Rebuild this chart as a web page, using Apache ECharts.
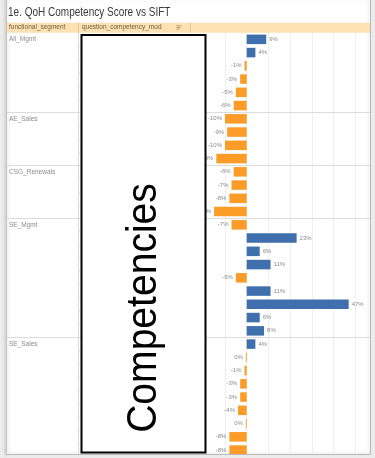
<!DOCTYPE html>
<html>
<head>
<meta charset="utf-8">
<script src="https://cdn.jsdelivr.net/npm/echarts@6/dist/echarts.min.js"></script>
<style>
  html, body { margin: 0; padding: 0; background: #ececec; }
  #chart { width: 375px; height: 458px; }
</style>
</head>
<body>
<div id="chart"></div>
<script>
// Segments in display order and the QoH competency score (%) of each question row vs SIFT
const segments = ['All_Mgmt', 'AE_Sales', 'CSG_Renewals', 'SE_Mgmt', 'SE_Sales'];
const allMgmtScores = [9, 4, -1, -3, -5, -6];
const aeSalesScores = [-10, -9, -10, -14];
const csgRenewalsScores = [-6, -7, -8, -15];
const seMgmtScores = [-7, 23, 6, 11, -5, 11, 47, 6, 8];
const seSalesScores = [4, -0.4, -1, -3, -3, -4, -0.4, -8, -8];

// Score axis: gridlines every 10 points
const xMin = -20;
const xMax = 57;
const xStep = 10;

const title = '1e. QoH Competency Score vs SIFT';
const headerSegment = 'functional_segment';
const headerQuestion = 'question_competency_mod';
const overlayText = 'Competencies';

const scoreGroups = [allMgmtScores, aeSalesScores, csgRenewalsScores, seMgmtScores, seSalesScores];

// One category per question row, grouped by segment
const categories = [];
const values = [];
const segmentStart = [];
scoreGroups.forEach((group, s) => {
  segmentStart.push(categories.length);
  group.forEach((v, i) => {
    categories.push(segments[s] + ' Q' + (i + 1));
    values.push(v);
  });
});

const POS = '#3f70ad';
const NEG = '#fb9c28';
const FONT = '"Liberation Sans", Arial, sans-serif';

const chart = echarts.init(document.getElementById('chart'), null, { renderer: 'canvas' });

const option = {
  animation: false,
  backgroundColor: '#ececec',
  grid: { left: 203.3, right: 4.6, top: 32.7, bottom: 1.3, containLabel: false },
  xAxis: {
    type: 'value',
    min: xMin, max: xMax, interval: xStep,
    axisLabel: { show: false },
    axisTick: { show: false },
    axisLine: { show: false },
    splitLine: { show: true, showMaxLine: false, lineStyle: { color: '#efefef', width: 1 } }
  },
  yAxis: {
    type: 'category',
    inverse: true,
    data: categories,
    axisLabel: { show: false },
    axisTick: { show: false },
    axisLine: { show: false },
    splitLine: { show: false }
  },
  series: [{
    type: 'bar',
    barWidth: '72%',
    z: 2,
    data: values.map(v => ({
      value: v,
      itemStyle: { color: v < 0 ? NEG : POS },
      label: { position: v < 0 ? 'left' : 'right' }
    })),
    label: {
      show: true,
      distance: 3,
      fontSize: 6,
      fontFamily: FONT,
      color: '#8a8a8a',
      formatter: p => Math.round(p.value) + '%'
    }
  }]
};

chart.setOption(option);

// Table chrome (header, segment bands, separators) placed from the category axis
const yAt = i => chart.convertToPixel({ yAxisIndex: 0 }, categories[i]);
const pitch = yAt(1) - yAt(0);
const rowTop = i => yAt(i) - pitch / 2;

const cardL = 6.5, cardR = 370.5, cardB = 454.5;
const colDiv = 78.5, paneL = 190.5;
const headTop = 22.7, headBot = rowTop(0);

const g = [];
// card
g.push({ type: 'rect', z: -5, shape: { x: cardL, y: -3, width: cardR - cardL, height: cardB + 3 },
  style: { fill: '#ffffff', stroke: '#c4c4c4', lineWidth: 1, shadowBlur: 4, shadowColor: 'rgba(0,0,0,0.25)' } });
// title
g.push({ type: 'text', z: 5, x: 8, y: 12, scaleX: 0.77,
  style: { text: title, font: '13px ' + FONT, fill: '#3a3a3a', textVerticalAlign: 'middle' } });
// header band
g.push({ type: 'rect', z: 1, shape: { x: cardL + 0.5, y: headTop, width: cardR - cardL - 1, height: headBot - headTop },
  style: { fill: '#fde1b2' } });
g.push({ type: 'line', z: 1, shape: { x1: colDiv, y1: headTop, x2: colDiv, y2: headBot }, style: { stroke: '#e8c896', lineWidth: 1 } });
g.push({ type: 'line', z: 1, shape: { x1: paneL, y1: headTop, x2: paneL, y2: headBot }, style: { stroke: '#e8c896', lineWidth: 1 } });
g.push({ type: 'text', z: 5, x: 9, y: (headTop + headBot) / 2,
  style: { text: headerSegment, font: '6.5px ' + FONT, fill: '#6e5a3e', textVerticalAlign: 'middle' } });
g.push({ type: 'text', z: 5, x: 82, y: (headTop + headBot) / 2,
  style: { text: headerQuestion, font: '6.5px ' + FONT, fill: '#6e5a3e', textVerticalAlign: 'middle' } });
// sort icon
[[5, 0], [4, 1.6], [3, 3.2]].forEach(([w, dy]) => {
  g.push({ type: 'line', z: 5, shape: { x1: 176.5, y1: 25.8 + dy, x2: 176.5 + w, y2: 25.8 + dy },
    style: { stroke: '#a88a62', lineWidth: 0.8 } });
});
// column divider between segment and question columns
g.push({ type: 'line', z: 1, shape: { x1: colDiv, y1: headBot, x2: colDiv, y2: cardB }, style: { stroke: '#dadada', lineWidth: 1 } });
// row lines in the question column
for (let i = 1; i < categories.length; i++) {
  const y = Math.round(rowTop(i)) + 0.5;
  g.push({ type: 'line', z: 1, shape: { x1: colDiv, y1: y, x2: paneL, y2: y }, style: { stroke: '#e2e2e2', lineWidth: 1 } });
}
// segment separators and labels
segments.forEach((name, s) => {
  const start = segmentStart[s];
  if (s > 0) {
    const y = Math.round(rowTop(start)) + 0.5;
    g.push({ type: 'line', z: 3, shape: { x1: cardL + 0.5, y1: y, x2: cardR - 0.5, y2: y }, style: { stroke: '#dcdcdc', lineWidth: 1 } });
  }
  g.push({ type: 'text', z: 5, x: 9, y: yAt(start),
    style: { text: name, font: '6.5px ' + FONT, fill: '#8c8c8c', textVerticalAlign: 'middle' } });
});
// overlay box across the question column
g.push({ type: 'rect', z: 20, shape: { x: 81.5, y: 35, width: 124, height: 417.5 },
  style: { fill: '#ffffff', stroke: '#000000', lineWidth: 2 } });
g.push({ type: 'text', z: 21, x: 144, y: 308, rotation: Math.PI / 2, scaleX: 0.93,
  style: { text: overlayText, font: '42px ' + FONT, fill: '#000000', textAlign: 'center', textVerticalAlign: 'middle' } });
// card edge over the clipped last row
g.push({ type: 'rect', z: 30, shape: { x: cardL, y: cardB, width: cardR - cardL + 5, height: 10 }, style: { fill: '#ececec' } });
g.push({ type: 'rect', z: 30, shape: { x: cardR, y: 0, width: 10, height: 470 }, style: { fill: '#ececec' } });
g.push({ type: 'line', z: 31, shape: { x1: cardL, y1: cardB, x2: cardR, y2: cardB }, style: { stroke: '#b8b8b8', lineWidth: 1 } });
g.push({ type: 'line', z: 31, shape: { x1: cardR, y1: 0, x2: cardR, y2: cardB }, style: { stroke: '#b8b8b8', lineWidth: 1 } });

chart.setOption({ graphic: { elements: g } });
</script>
</body>
</html>
